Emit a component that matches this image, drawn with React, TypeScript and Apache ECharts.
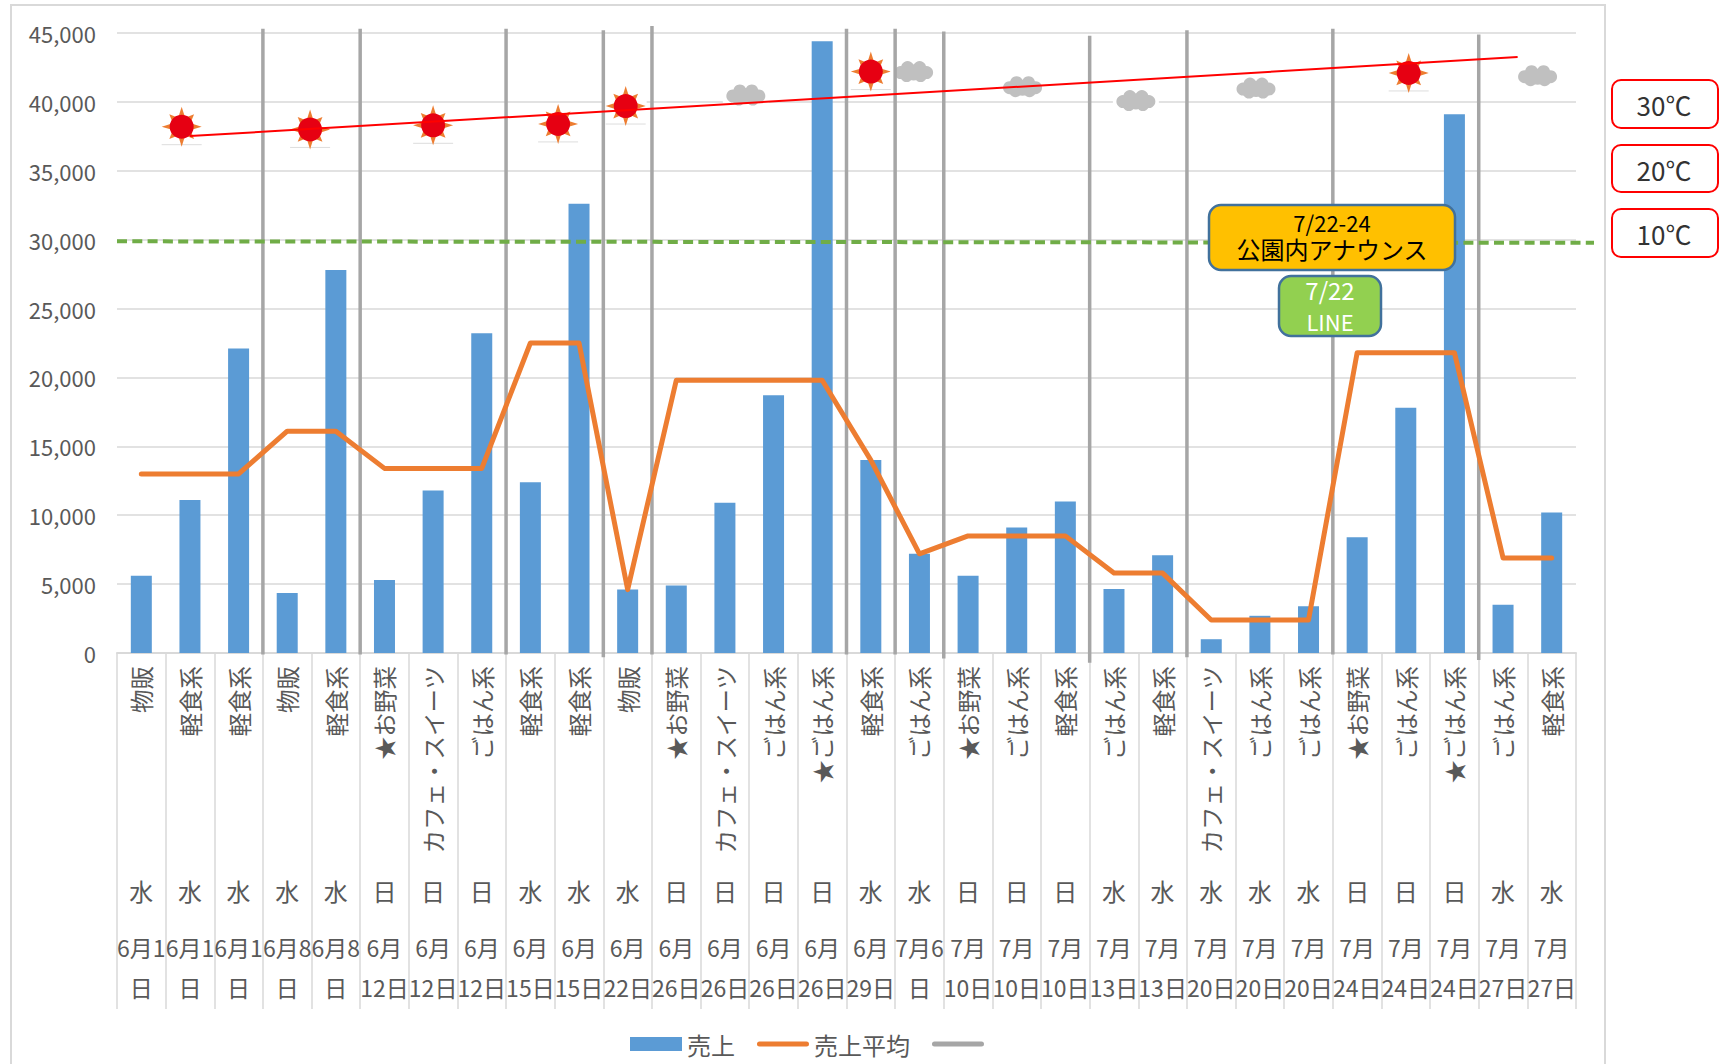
import React, { useEffect, useRef } from "react";
import * as echarts from "echarts";

const shopTypes = ["物販","軽食系","軽食系","物販","軽食系","★お野菜","カフェ・スイーツ","ごはん系","軽食系","軽食系","物販","★お野菜","カフェ・スイーツ","ごはん系","★ごはん系","軽食系","ごはん系","★お野菜","ごはん系","軽食系","ごはん系","軽食系","カフェ・スイーツ","ごはん系","ごはん系","★お野菜","ごはん系","★ごはん系","ごはん系","軽食系"];
const weekdays = ["水","水","水","水","水","日","日","日","水","水","水","日","日","日","日","水","水","日","日","日","水","水","水","水","水","日","日","日","水","水"];
const dates = ["6月1\n日","6月1\n日","6月1\n日","6月8\n日","6月8\n日","6月\n12日","6月\n12日","6月\n12日","6月\n15日","6月\n15日","6月\n22日","6月\n26日","6月\n26日","6月\n26日","6月\n26日","6月\n29日","7月6\n日","7月\n10日","7月\n10日","7月\n10日","7月\n13日","7月\n13日","7月\n20日","7月\n20日","7月\n20日","7月\n24日","7月\n24日","7月\n24日","7月\n27日","7月\n27日"];
const sales = [5600,11100,22100,4350,27800,5300,11800,23200,12400,32600,4600,4900,10900,18700,44400,14000,7200,5600,9100,11000,4650,7100,1000,2700,3400,8400,17800,39100,3500,10200];
const salesAverage = [13000,13000,13000,16100,16100,13400,13400,13400,22500,22500,4600,19800,19800,19800,19800,14000,7200,8500,8500,8500,5800,5800,2400,2400,2400,21800,21800,21800,6900,6900];
// [category boundary index, top value, bottom value]
const separators = [[3,45300,-100],[5,45300,-100],[8,45300,-100],[10,45200,-300],[11,45500,-100],[15,45300,-100],[16,45300,-100],[17,45100,-400],[20,44800,-700],[22,45200,-300],[25,45300,-100],[28,44900,-500]];
// [category index, fraction of a band from its centre, value]
const sunnyDays = [[1,-0.17,38200],[3,0.47,38000],[6,0,38300],[8,0.57,38400],[10,-0.04,39700],[15,0,42200],[26,0.06,42100]];
const cloudyDays = [[12,0.43,40500],[16,-0.12,42200],[18,0.12,41100],[20,0.45,40100],[23,-0.08,41000],[29,-0.29,41900]];
const trendLine = [[1,0,37520],[28,0.3,43250]];
const targetLine = [[0,-0.5,29880],[29,0.87,29770]];

const FONT = '"Noto Sans CJK JP", "Noto Sans", sans-serif';
const GREY = "#595959";
const legendBar = "path://M0 0L0 0M2.5 4.5H49.5A2.5 2.5 0 0 1 49.5 9.5H2.5A2.5 2.5 0 0 1 2.5 4.5ZM52 14L52 14";

function pointOf(api: any) {
  const band = api.size([1, 0])[0];
  const p = api.coord([api.value(0), api.value(2)]);
  return [p[0] + api.value(1) * band, p[1]];
}

function renderSun(_: any, api: any) {
  const [x, y] = pointOf(api);
  const rays: any[] = [];
  for (let k = 0; k < 8; k++) {
    const a = (k * Math.PI) / 4;
    const long = k % 2 === 0 ? 20 : 17.5;
    const w = 0.27;
    rays.push({
      type: "polygon",
      shape: { points: [
        [Math.cos(a) * long, Math.sin(a) * long],
        [Math.cos(a + w) * 11, Math.sin(a + w) * 11],
        [Math.cos(a - w) * 11, Math.sin(a - w) * 11],
      ] },
      style: { fill: "#ed7d31" },
    });
  }
  return {
    type: "group", x, y,
    children: [
      { type: "rect", shape: { x: -21, y: -18, width: 42, height: 36 }, style: { fill: "#fff" } },
      { type: "line", shape: { x1: -20, y1: 18, x2: 20, y2: 18 }, style: { stroke: "#dddddd", lineWidth: 1 } },
      ...rays,
      { type: "circle", shape: { cx: 0, cy: 0, r: 12 }, style: { fill: "#e60012" } },
    ],
  };
}

function renderCloud(_: any, api: any) {
  const [x, y] = pointOf(api);
  const fill = "#c0c0c0";
  const blobs = [[-13,1,6.5],[-6,-4,6.5],[6,-4,6.5],[13,1,6.5],[-7,4,6.5],[7,4,6.5],[0,1,8]];
  return {
    type: "group", x, y,
    children: [
      { type: "rect", shape: { x: -23, y: -13, width: 46, height: 26 }, style: { fill: "#fff" } },
      ...blobs.map(([cx, cy, r]) => ({ type: "circle", shape: { cx, cy, r }, style: { fill } })),
    ],
  };
}

function renderSeparator(_: any, api: any) {
  const band = api.size([1, 0])[0];
  const top = api.coord([api.value(0), api.value(1)]);
  const bottom = api.coord([api.value(0), api.value(2)]);
  return {
    type: "line",
    shape: { x1: top[0] - band / 2, y1: top[1], x2: top[0] - band / 2, y2: bottom[1] },
    style: { stroke: "#a6a6a6", lineWidth: 3.5 },
  };
}

function segment(points: number[][], stroke: string, lineWidth: number, lineDash?: number[]) {
  return (params: any, api: any) => {
    if (params.dataIndex !== 0) return null;
    const band = api.size([1, 0])[0];
    const [a, b] = points.map((p) => {
      const c = api.coord([p[0], p[2]]);
      return [c[0] + p[1] * band, c[1]];
    });
    return {
      type: "line",
      shape: { x1: a[0], y1: a[1], x2: b[0], y2: b[1] },
      style: { stroke, lineWidth, lineDash },
    };
  };
}

function box(x: number, y: number, width: number, height: number, r: number, fill: string, stroke: string, lineWidth: number) {
  return { type: "rect", z: 100, shape: { x, y, width, height, r }, style: { fill, stroke, lineWidth } };
}
function label(x: number, y: number, text: string, fill: string, fontSize: number) {
  return { type: "text", z: 101, x, y, style: { text, fill, fontSize, fontFamily: FONT, align: "center", verticalAlign: "middle" } };
}

export default function App() {
  const ref = useRef<HTMLDivElement>(null);
  useEffect(() => {
    const chart = echarts.init(ref.current!, undefined, { renderer: "svg" });
    const extraAxis = (data: string[], margin: number, fontSize: number, lineHeight?: number) => ({
      type: "category", data, position: "bottom",
      axisLine: { show: false }, axisTick: { show: false }, splitLine: { show: false },
      axisLabel: { interval: 0, margin, color: GREY, fontSize, fontFamily: FONT, hideOverlap: false, lineHeight, verticalAlign: "top" },
    });
    chart.setOption({
      animation: false,
      backgroundColor: "#ffffff",
      textStyle: { fontFamily: FONT },
      grid: { left: 117, right: 149, top: 33, bottom: 411, containLabel: false },
      legend: {
        left: 625, top: 1027, itemWidth: 52, itemHeight: 14, itemGap: 22,
        textStyle: { color: GREY, fontSize: 24, fontFamily: FONT },
        data: [{ name: "売上", icon: "rect" }, { name: "売上平均", icon: legendBar }, { name: "　", icon: legendBar }],
      },
      xAxis: [
        {
          type: "category", data: shopTypes, position: "bottom",
          axisLine: { lineStyle: { color: "#d9d9d9", width: 2 } },
          axisTick: { show: true, length: 356, lineStyle: { color: "#d9d9d9", width: 1.5 } },
          axisLabel: { interval: 0, rotate: 90, margin: 13, color: GREY, fontSize: 23.5, fontFamily: FONT, hideOverlap: false, padding: [0, 0, 9, 0] },
        },
        extraAxis(weekdays, 225, 24),
        extraAxis(dates, 274, 23, 40),
      ],
      yAxis: {
        type: "value", min: 0, max: 45000, interval: 5000,
        axisLine: { show: false }, axisTick: { show: false },
        axisLabel: { margin: 21, color: GREY, fontSize: 22, fontFamily: FONT, padding: [0, 0, 5, 0] },
        splitLine: { lineStyle: { color: "#d9d9d9", width: 1.5 } },
      },
      series: [
        { type: "bar", name: "売上", data: sales, barWidth: 21, itemStyle: { color: "#5b9bd5" }, z: 2 },
        { type: "custom", name: "sunny", data: sunnyDays, encode: { x: 0, y: 2 }, renderItem: renderSun, silent: true, z: 3 },
        { type: "custom", name: "cloudy", data: cloudyDays, encode: { x: 0, y: 2 }, renderItem: renderCloud, silent: true, z: 3 },
        { type: "custom", name: "　", data: separators, encode: { x: 0, y: [1, 2] }, renderItem: renderSeparator, itemStyle: { color: "#a6a6a6" }, silent: true, z: 4 },
        { type: "line", name: "売上平均", data: salesAverage, symbol: "none", lineStyle: { color: "#ed7d31", width: 5, cap: "round", join: "round" }, itemStyle: { color: "#ed7d31" }, z: 5 },
        { type: "custom", name: "target", data: [targetLine[0]], encode: { x: 0, y: 2 }, renderItem: segment(targetLine, "#70ad47", 4, [10, 5.3]), silent: true, z: 6 },
        { type: "custom", name: "trend", data: [trendLine[0]], encode: { x: 0, y: 2 }, renderItem: segment(trendLine, "#ff0000", 2), silent: true, z: 7 },
      ],
      graphic: [
        { type: "rect", z: 1, silent: true, shape: { x: 11, y: 5, width: 1594, height: 1100 }, style: { fill: "none", stroke: "#d9d9d9", lineWidth: 2 } },
        box(1612, 80, 106, 48, 9, "#ffffff", "#ff0000", 2),
        box(1612, 145, 106, 47, 9, "#ffffff", "#ff0000", 2),
        box(1612, 209, 106, 48, 9, "#ffffff", "#ff0000", 2),
        label(1664, 104, "30℃", "#333333", 26),
        label(1664, 169, "20℃", "#333333", 26),
        label(1664, 233, "10℃", "#333333", 26),
        box(1209, 205, 246, 65, 12, "#ffc000", "#41719c", 2.5),
        label(1332, 222, "7/22-24", "#000000", 22),
        label(1332, 248, "公園内アナウンス", "#000000", 24),
        box(1279, 276, 102, 60, 12, "#92d050", "#41719c", 2.5),
        label(1330, 289, "7/22", "#ffffff", 24),
        label(1330, 321, "LINE", "#ffffff", 22),
      ],
    });
    return () => chart.dispose();
  }, []);
  return <div ref={ref} style={{ position: "fixed", left: 0, top: 0, width: 1725, height: 1064 }} />;
}
